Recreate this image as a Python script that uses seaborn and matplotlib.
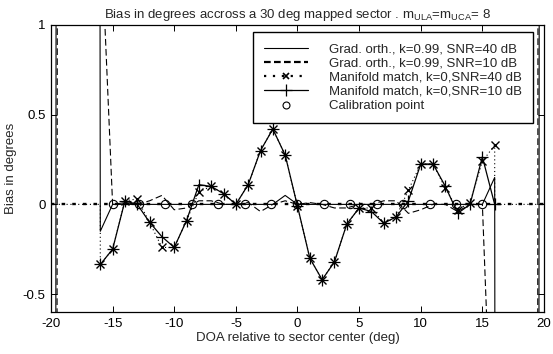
import numpy as np
import pandas as pd
import matplotlib
matplotlib.use("Agg")
import matplotlib.pyplot as plt
import seaborn as sns
from matplotlib.lines import Line2D

# ---------------- data ----------------
doa_mm = list(range(-16, 17))  # manifold-match evaluation points (deg)
mm_snr10 = [-0.335, -0.25, 0.02, 0.0, -0.10, -0.18, -0.24, -0.09, 0.11, 0.10, 0.06,
            0.0, 0.11, 0.30, 0.42, 0.275, -0.01, -0.30, -0.42, -0.32, -0.11, -0.02,
            -0.04, -0.105, -0.07, 0.02, 0.225, 0.225, 0.10, -0.05, 0.0, 0.265, 0.0]
mm_snr40 = [-0.335, -0.25, 0.02, 0.03, -0.10, -0.24, -0.24, -0.09, 0.07, 0.10, 0.06,
            0.0, 0.11, 0.30, 0.42, 0.275, -0.01, -0.30, -0.42, -0.32, -0.11, -0.02,
            -0.02, -0.105, -0.07, 0.08, 0.225, 0.225, 0.09, -0.03, 0.01, 0.24, 0.33]

doa_go = list(range(-20, 21))  # gradient-orthogonalisation evaluation points (deg)
go_snr40 = [-40, 60, 60, 60, -0.15, 0.0, 0.0, 0.0, 0.0, 0.0, 0.0, 0.0, 0.0, 0.0, 0.0,
            0.0, 0.0, 0.0, 0.0, 0.05, 0.0, 0.0, 0.0, 0.0, 0.0, 0.0, 0.0, 0.0, 0.0,
            0.0, 0.0, 0.0, 0.0, 0.0, 0.0, 0.0, 0.15, -60, -60, -60, 40]
go_snr10 = [-50, 50, 50, 50, 1.6, 0.0, 0.01, 0.0, 0.02, 0.05, -0.03, -0.02, 0.02, 0.02,
            0.0, 0.0, 0.01, -0.04, 0.0, 0.02, 0.0, 0.01, 0.0, -0.02, -0.02, 0.0, 0.0,
            0.02, 0.02, -0.05, -0.03, 0.0, 0.0, -0.04, 0.0, 0.0, -1.8, -50, -50, -50, 50]

calib_x = list(np.round(np.linspace(-15, 15, 15), 3))
calib_y = [0.0] * 15

labels = ["Grad. orth., k=0.99, SNR=40 dB",
          "Grad. orth., k=0.99, SNR=10 dB",
          "Manifold match, k=0,SNR=40 dB",
          "Manifold match, k=0,SNR=10 dB",
          "Calibration point"]
title = r"Bias in degrees accross a 30 deg mapped sector . m$_{\mathrm{ULA}}$=m$_{\mathrm{UCA}}$= 8"
xlabel = "DOA relative to sector center (deg)"
ylabel = "Bias in degrees"
xticks = [-20, -15, -10, -5, 0, 5, 10, 15, 20]
yticks = [-0.5, 0, 0.5, 1]
yticklabels = ["-0.5", "0", "0.5", "1"]

# manifold match SNR=40 trace returns to zero outside the sector
mm40_x = [-20, -16] + doa_mm + [16, 20]
mm40_y = [0.0, 0.0] + mm_snr40 + [0.0, 0.0]

# ---------------- style ----------------
sns.set_theme(style="white")
plt.rcParams["font.family"] = ["Liberation Sans", "DejaVu Sans"]
plt.rcParams["mathtext.fontset"] = "custom"
plt.rcParams["mathtext.rm"] = "Liberation Sans"
plt.rcParams["mathtext.it"] = "Liberation Sans:italic"
plt.rcParams["axes.unicode_minus"] = False

fig = plt.figure(figsize=(5.53, 3.54), dpi=100)
ax = fig.add_axes([0.0922, 0.1186, 0.8915, 0.8108])

fs = 9.5
lc = "black"

ax.axhline(0, color=lc, lw=1.7, linestyle=(0, (1.5, 3)), zorder=1)

sns.lineplot(x=doa_go, y=go_snr40, ax=ax, estimator=None, sort=False, color=lc,
             lw=0.8, legend=False)
sns.lineplot(x=doa_go, y=go_snr10, ax=ax, estimator=None, sort=False, color=lc,
             lw=0.8, linestyle=(0, (6, 3)), legend=False)
sns.lineplot(x=mm40_x, y=mm40_y, ax=ax, estimator=None, sort=False, color=lc,
             lw=0.8, linestyle=(0, (1, 2.5)), legend=False)
sns.lineplot(x=doa_mm, y=mm_snr40, ax=ax, estimator=None, sort=False, color=lc,
             linestyle="none", marker="x", markersize=5.5, markeredgewidth=1.0,
             markeredgecolor=lc, legend=False)
sns.lineplot(x=doa_mm, y=mm_snr10, ax=ax, estimator=None, sort=False, color=lc,
             lw=0.9, marker="+", markersize=8, markeredgewidth=0.9,
             markeredgecolor=lc, legend=False)
sns.lineplot(x=calib_x, y=calib_y, ax=ax, estimator=None, sort=False, color=lc,
             linestyle="none", marker="o", markersize=6, markerfacecolor="none",
             markeredgecolor=lc, markeredgewidth=0.8, legend=False)

ax.set_xlim(-20, 20)
ax.set_ylim(-0.6, 1.0)
ax.set_xticks(xticks)
ax.set_xticklabels([str(t) for t in xticks], fontsize=fs)
ax.set_yticks(yticks)
ax.set_yticklabels(yticklabels, fontsize=fs)
ax.tick_params(direction="in", length=4, width=0.7, top=True, right=True,
               bottom=True, left=True, pad=4, colors="black")
for s in ax.spines.values():
    s.set_color("black")
    s.set_linewidth(0.9)
ax.set_xlabel(xlabel, fontsize=fs, labelpad=2)
ax.set_ylabel(ylabel, fontsize=fs, labelpad=4)
ax.set_title(title, fontsize=fs, pad=5)

h = [Line2D([], [], color=lc, lw=0.8),
     Line2D([], [], color=lc, lw=1.6, linestyle=(0, (3, 1.5))),
     Line2D([], [], color=lc, lw=1.6, linestyle=(0, (1, 3)), marker="x",
            markersize=5, markeredgewidth=1.2),
     Line2D([], [], color=lc, lw=0.9, marker="+", markersize=8, markeredgewidth=0.9),
     Line2D([], [], color=lc, linestyle="none", marker="o", markersize=5,
            markerfacecolor="none", markeredgewidth=0.8)]
leg = ax.legend(h, labels, loc="upper right", bbox_to_anchor=(0.978, 0.976),
                fontsize=fs, frameon=True, fancybox=False, framealpha=1,
                edgecolor="black", handlelength=3.3, handletextpad=1.6,
                labelspacing=0.15, borderpad=0.85, borderaxespad=0)
leg.get_frame().set_linewidth(1.0)

fig.savefig("out.png", dpi=100)
